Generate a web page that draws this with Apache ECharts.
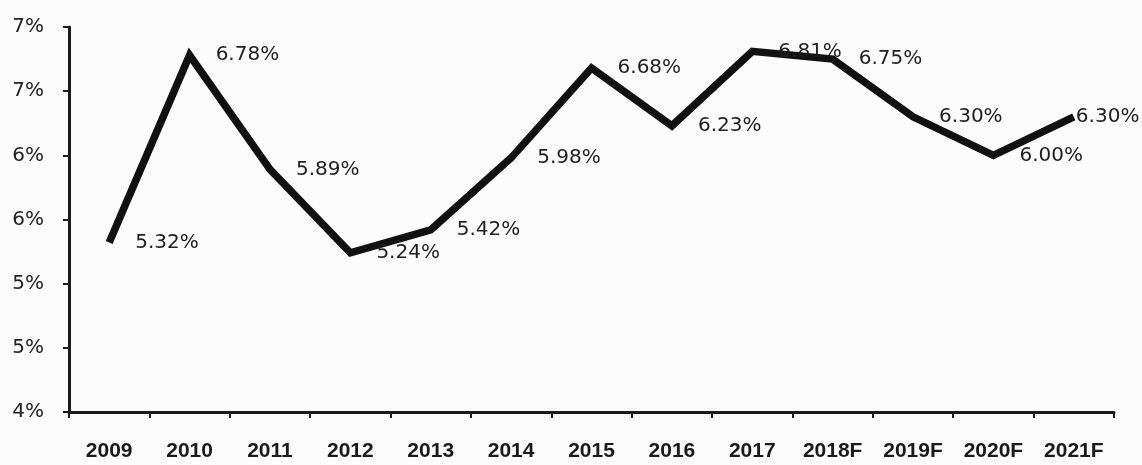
<!DOCTYPE html>
<html>
<head>
<meta charset="utf-8">
<script src="https://cdn.jsdelivr.net/npm/echarts@6/dist/echarts.min.js"></script>
<style>
html,body{margin:0;padding:0;background:#fdfcfd;}
#chart{width:1142px;height:465px;}
</style>
</head>
<body>
<div id="chart"></div>
<script>
// Data
const categories = ['2009','2010','2011','2012','2013','2014','2015','2016','2017','2018F','2019F','2020F','2021F'];
const rates = [5.32, 6.78, 5.89, 5.24, 5.42, 5.98, 6.68, 6.23, 6.81, 6.75, 6.30, 6.00, 6.30];
const yTickLabels = ['4%','5%','5%','6%','6%','7%','7%'];

const chart = echarts.init(document.getElementById('chart'), null, {renderer:'canvas'});

const seriesData = rates.map((v, i) => {
  const item = { value: v };
  if (i === rates.length - 1) {
    item.label = { distance: 2 };
  }
  return item;
});

chart.setOption({
  backgroundColor: '#fdfcfd',
  animation: false,
  grid: { left: 69, right: 28, top: 27, bottom: 53, containLabel: false },
  xAxis: {
    type: 'category',
    data: categories,
    boundaryGap: true,
    axisLine: { show: true, lineStyle: { color: '#1a1a1a', width: 3 } },
    axisTick: { show: true, length: 6, alignWithLabel: false, lineStyle: { color: '#1a1a1a', width: 2 } },
    axisLabel: {
      color: '#1a1a1a',
      fontFamily: 'Liberation Sans',
      fontWeight: 'bold',
      fontSize: 21,
      margin: 29,
      interval: 0
    },
    splitLine: { show: false }
  },
  yAxis: {
    type: 'value',
    min: 4,
    max: 7,
    interval: 0.5,
    axisLine: { show: true, lineStyle: { color: '#1a1a1a', width: 3 } },
    axisTick: { show: true, length: 6, lineStyle: { color: '#1a1a1a', width: 2 } },
    axisLabel: {
      color: '#222222',
      fontFamily: 'DejaVu Sans',
      fontSize: 20,
      margin: 25,
      formatter: function (v) {
        const idx = Math.round((v - 4) / 0.5);
        return yTickLabels[idx];
      }
    },
    splitLine: { show: false }
  },
  series: [{
    type: 'line',
    data: seriesData,
    symbol: 'circle',
    symbolSize: 0.1,
    showSymbol: true,
    itemStyle: { color: 'rgba(0,0,0,0)' },
    lineStyle: { color: '#111111', width: 7.5, join: 'miter' },
    label: {
      show: true,
      position: 'right',
      distance: 26,
      offset: [0, 3],
      color: '#1e1e1e',
      fontFamily: 'DejaVu Sans',
      fontSize: 20,
      formatter: function (p) { return p.value.toFixed(2) + '%'; }
    },
    labelLayout: { hideOverlap: false }
  }]
});
</script>
</body>
</html>
